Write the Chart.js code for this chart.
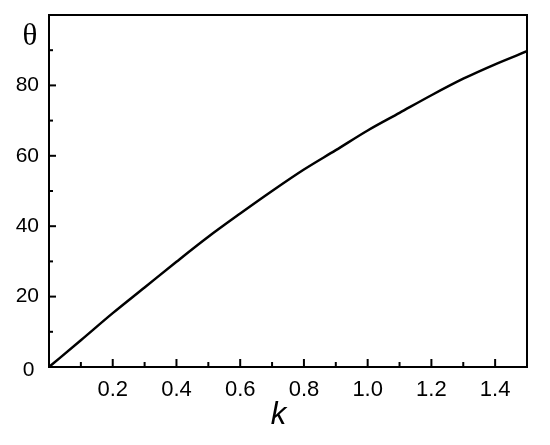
<!DOCTYPE html>
<html>
<head>
<meta charset="utf-8">
<script src="https://cdn.jsdelivr.net/npm/chart.js@4/dist/chart.umd.min.js"></script>
<style>
  html, body { margin: 0; padding: 0; background: #fff; }
  #wrap { width: 550px; height: 445px; position: relative; }
</style>
</head>
<body>
<div id="wrap"><canvas id="c" width="550" height="445"></canvas></div>
<script>
// ---- data ----
const kValues = [0, 0.1, 0.2, 0.3, 0.4, 0.5, 0.6, 0.7, 0.8, 0.9, 1.0, 1.1, 1.2, 1.3, 1.4, 1.5];
const thetaValues = [0, 7.6, 15.3, 22.6, 29.9, 37.0, 43.6, 50.0, 56.1, 61.6, 67.2, 72.2, 77.2, 81.9, 86.0, 89.7];
const xTickLabels = ['0.2', '0.4', '0.6', '0.8', '1.0', '1.2', '1.4'];
const yTickLabels = ['20', '40', '60', '80'];
const xTitle = 'k';
const yTitle = 'θ';
const originLabel = '0';

const points = kValues.map((k, i) => ({ x: k, y: thetaValues[i] }));

function zeroPad(s) { s.paddingTop = 0; s.paddingBottom = 0; s.paddingLeft = 0; s.paddingRight = 0; }

const frameAndTicks = {
  id: 'frameAndTicks',
  afterDraw(chart) {
    const ctx = chart.ctx;
    const xs = chart.scales.x, ys = chart.scales.y;
    const a = chart.chartArea;
    ctx.save();
    ctx.strokeStyle = '#000';
    ctx.lineWidth = 2;
    // top and right frame
    ctx.beginPath();
    ctx.moveTo(a.left, a.top);
    ctx.lineTo(a.right, a.top);
    ctx.lineTo(a.right, a.bottom);
    ctx.stroke();
    // inward x ticks
    xs.ticks.forEach(t => {
      const v = t.value;
      if (v <= 0 || v >= 1.5 - 1e-9) return;
      const lbl = v.toFixed(1);
      const major = xTickLabels.includes(lbl);
      const px = xs.getPixelForValue(v);
      ctx.beginPath();
      ctx.moveTo(px, a.bottom);
      ctx.lineTo(px, a.bottom - (major ? 8 : 5));
      ctx.stroke();
    });
    // inward y ticks
    ys.ticks.forEach(t => {
      const v = t.value;
      if (v <= 0 || v >= 100) return;
      const major = yTickLabels.includes(String(Math.round(v)));
      const py = ys.getPixelForValue(v);
      ctx.beginPath();
      ctx.moveTo(a.left, py);
      ctx.lineTo(a.left + (major ? 7 : 4), py);
      ctx.stroke();
    });
    // texts
    ctx.fillStyle = '#000';
    ctx.textAlign = 'center';
    ctx.textBaseline = 'middle';
    ctx.font = '21px "Liberation Sans", Arial, sans-serif';
    ctx.fillText(originLabel, xs.getPixelForValue(0) - 20.5, ys.getPixelForValue(0) + 3);
    ctx.font = 'italic 31px "Liberation Sans", Arial, sans-serif';
    ctx.fillText(xTitle, 278.5, 415);
    ctx.font = '31px "Liberation Serif", "Times New Roman", serif';
    ctx.fillText(yTitle, 30, 37);
    ctx.restore();
  }
};

new Chart(document.getElementById('c'), {
  type: 'scatter',
  data: {
    datasets: [{
      data: points,
      showLine: true,
      borderColor: '#000',
      borderWidth: 2.5,
      pointRadius: 0,
      cubicInterpolationMode: 'monotone',
      fill: false
    }]
  },
  options: {
    responsive: false,
    animation: false,
    devicePixelRatio: 1,
    layout: { padding: { left: 0, right: 23, top: 15, bottom: 0 } },
    plugins: { legend: { display: false }, tooltip: { enabled: false } },
    scales: {
      x: {
        type: 'linear',
        min: 0, max: 1.5,
        grid: { display: false, drawTicks: false, tickLength: 0 },
        border: { display: true, color: '#000', width: 2 },
        ticks: {
          stepSize: 0.1,
          autoSkip: false,
          maxRotation: 0,
          padding: 10,
          color: '#000',
          font: { family: '"Liberation Sans", Arial, sans-serif', size: 22 },
          callback: (v) => { const s = Number(v).toFixed(1); return xTickLabels.includes(s) ? s : ''; }
        },
        afterFit: (s) => { s.height = 78; zeroPad(s); }
      },
      y: {
        type: 'linear',
        min: 0, max: 100,
        grid: { display: false, drawTicks: false, tickLength: 0 },
        border: { display: true, color: '#000', width: 2 },
        ticks: {
          stepSize: 10,
          autoSkip: false,
          padding: 10,
          color: '#000',
          font: { family: '"Liberation Sans", Arial, sans-serif', size: 21 },
          callback: (v) => { const s = String(Math.round(v)); return yTickLabels.includes(s) ? s : ''; }
        },
        afterFit: (s) => { s.width = 49; zeroPad(s); }
      }
    }
  },
  plugins: [frameAndTicks]
});
</script>
</body>
</html>
